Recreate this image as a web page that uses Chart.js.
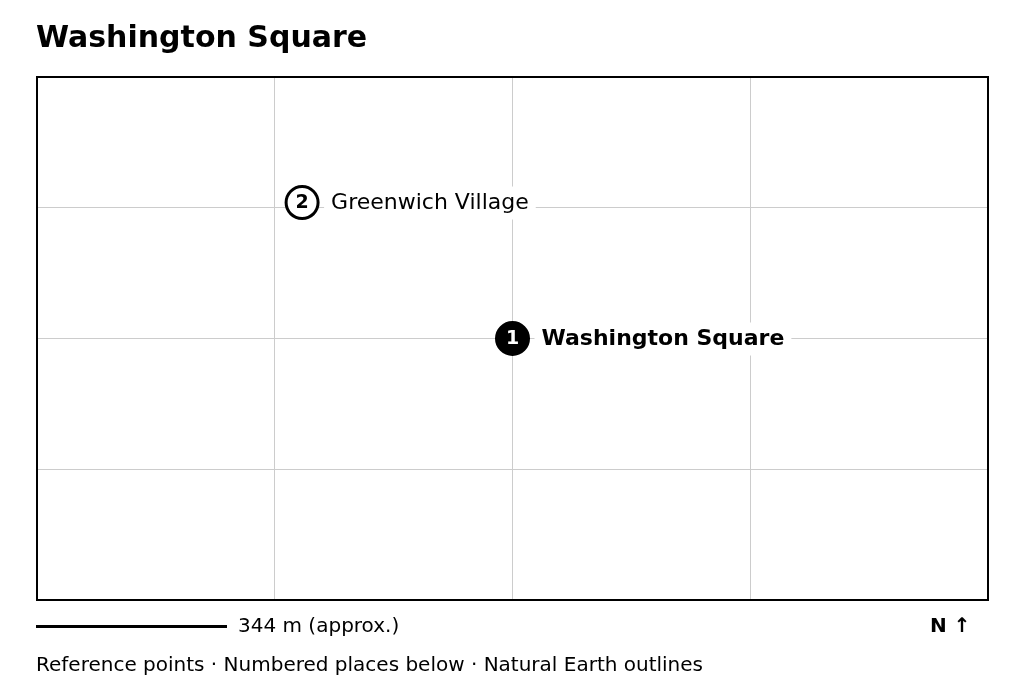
<!DOCTYPE html>
<html>
<head>
<meta charset="utf-8">
<title>Washington Square</title>
<script src="https://cdn.jsdelivr.net/npm/chart.js@4/dist/chart.umd.min.js"></script>
<style>
  html, body { margin: 0; padding: 0; background: #fff; }
  body { width: 1024px; height: 692px; position: relative; overflow: hidden; font-family: "DejaVu Sans", sans-serif; color: #000; }
  canvas { position: absolute; left: 0; top: 0; }
  .txt { position: absolute; white-space: nowrap; line-height: 1; }
  #mainTitle { left: 36px; top: 22px; font-size: 30px; font-weight: bold; }
  #scaleBar { position: absolute; left: 36px; top: 625px; width: 191px; height: 3px; background: #000; }
  #scaleText { left: 238px; top: 615px; font-size: 20px; }
  #north { left: 930px; top: 615px; font-size: 20px; font-weight: bold; }
  #footer { left: 36px; top: 654px; font-size: 20px; }
</style>
</head>
<body>
<canvas id="map" width="1024" height="692"></canvas>
<div class="txt" id="mainTitle">Washington Square</div>
<div id="scaleBar"></div>
<div class="txt" id="scaleText">344 m (approx.)</div>
<div class="txt" id="north">N ↑</div>
<div class="txt" id="footer">Reference points · Numbered places below · Natural Earth outlines</div>
<script>
const placeNames = ["Washington Square", "Greenwich Village"];
const placeNumbers = ["1", "2"];
const placeX = [2, 1.115];
const placeY = [2, 3.04];
const primary = [true, false];

const gridX = [0, 1, 2, 3, 4];
const gridY = [0, 1, 2, 3, 4];

function labelFont(i) {
  return (primary[i] ? "bold " : "") + "22px 'DejaVu Sans'";
}

const labelsPlugin = {
  id: "placeLabels",
  // white boxes go under the points but over the grid
  beforeDatasetsDraw(chart) {
    let ctx = chart.ctx;
    let pts = chart.getDatasetMeta(0).data;
    ctx.save();
    ctx.fillStyle = "#fff";
    pts.forEach((p, i) => {
      ctx.font = labelFont(i);
      let w = ctx.measureText(placeNames[i]).width;
      ctx.fillRect(p.x + 22, p.y - 16, w + 14, 33);
    });
    ctx.restore();
  },
  afterDatasetsDraw(chart) {
    let ctx = chart.ctx;
    let pts = chart.getDatasetMeta(0).data;
    let a = chart.chartArea;
    ctx.save();
    ctx.textBaseline = "middle";
    pts.forEach((p, i) => {
      ctx.textAlign = "left";
      ctx.fillStyle = "#000";
      ctx.font = labelFont(i);
      ctx.fillText(placeNames[i], p.x + 29, p.y + 1);
      ctx.textAlign = "center";
      ctx.fillStyle = primary[i] ? "#fff" : "#000";
      ctx.font = "bold 19px 'DejaVu Sans'";
      ctx.fillText(placeNumbers[i], p.x, p.y + 1);
    });
    ctx.strokeStyle = "#000";
    ctx.lineWidth = 2;
    ctx.strokeRect(a.left, a.top, a.right - a.left, a.bottom - a.top);
    ctx.restore();
  }
};

new Chart(document.getElementById("map"), {
  type: "scatter",
  data: {
    datasets: [
      {
        data: placeX.map((x, i) => ({ x: x, y: placeY[i] })),
        pointStyle: "circle",
        pointRadius: 16,
        pointHoverRadius: 16,
        pointBorderWidth: 3,
        pointBorderColor: "#000",
        pointBackgroundColor: primary.map((p) => (p ? "#000" : "#fff")),
      },
    ],
  },
  options: {
    responsive: false,
    animation: false,
    layout: { padding: { left: 37, top: 77, right: 36, bottom: 92 } },
    plugins: {
      legend: { display: false },
      tooltip: { enabled: false },
      title: { display: false },
    },
    scales: {
      x: {
        type: "linear",
        min: gridX[0],
        max: gridX[gridX.length - 1],
        ticks: { display: false, stepSize: 1 },
        border: { display: false },
        grid: { color: "#cccccc", lineWidth: 1, drawTicks: false },
      },
      y: {
        type: "linear",
        min: gridY[0],
        max: gridY[gridY.length - 1],
        ticks: { display: false, stepSize: 1 },
        border: { display: false },
        grid: { color: "#cccccc", lineWidth: 1, drawTicks: false },
      },
    },
  },
  plugins: [labelsPlugin],
});
</script>
</body>
</html>
